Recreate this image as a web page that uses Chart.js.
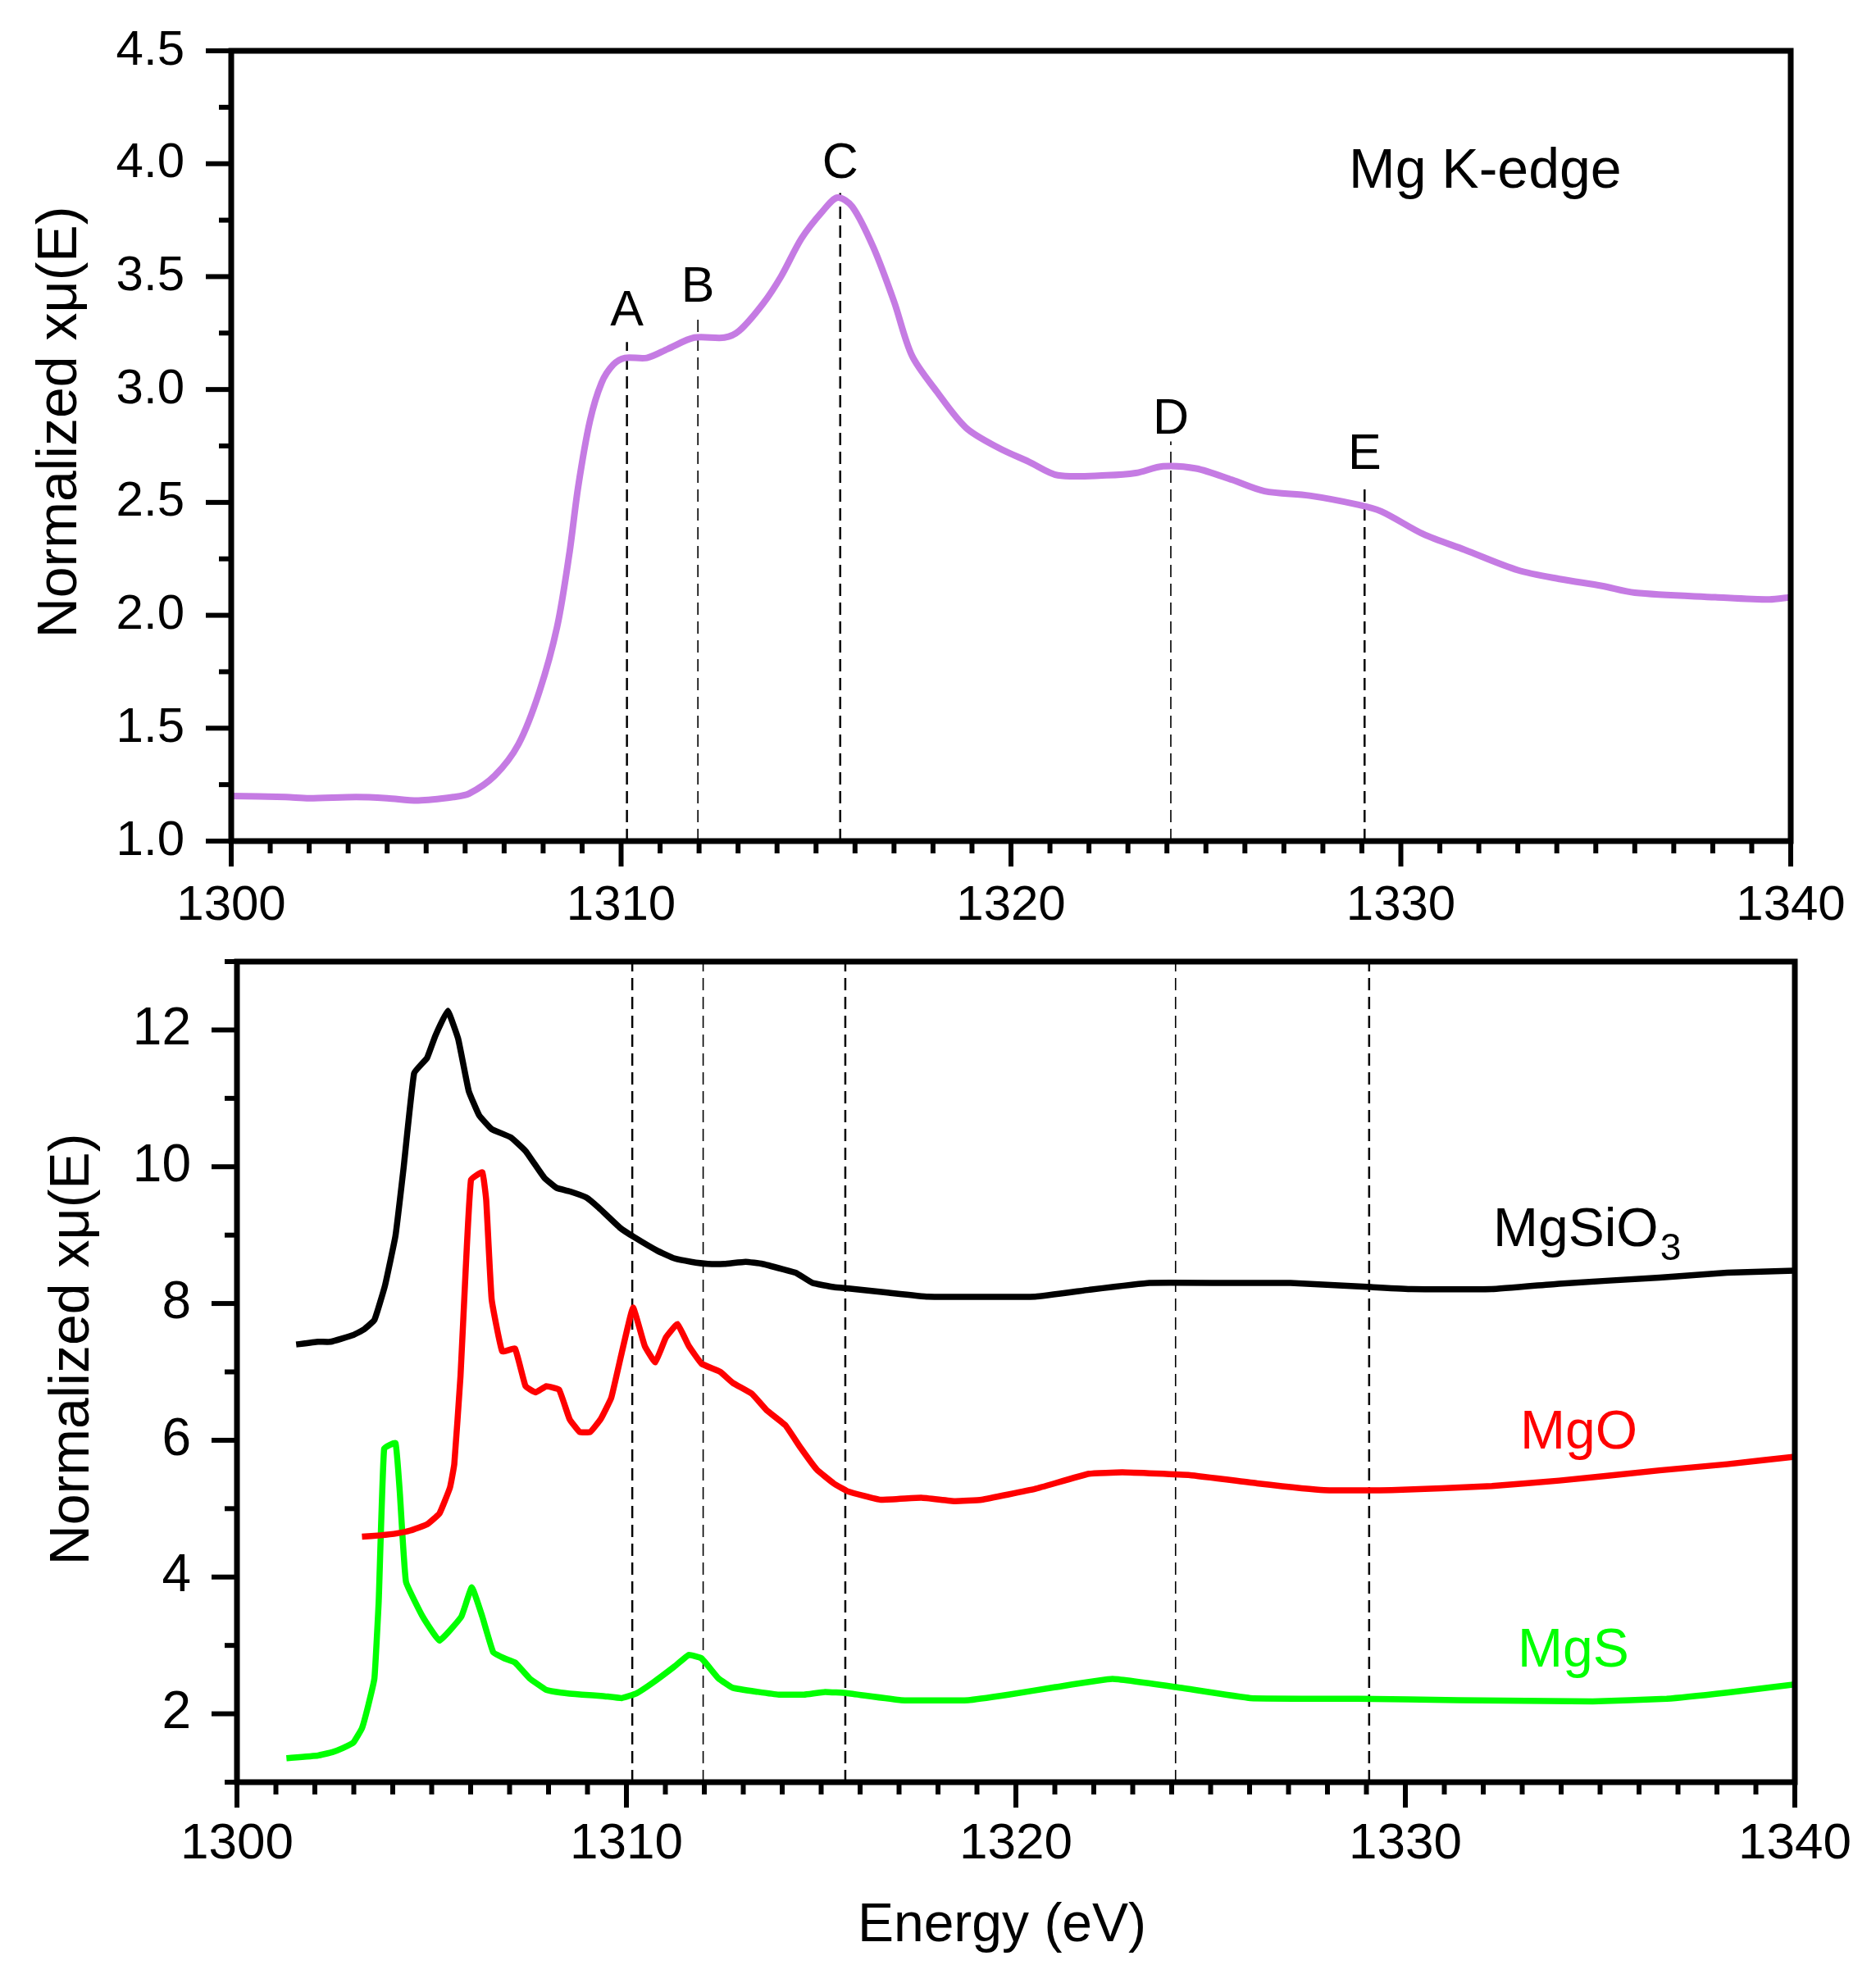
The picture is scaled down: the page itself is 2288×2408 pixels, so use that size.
<!DOCTYPE html>
<html>
<head>
<meta charset="utf-8">
<script src="https://cdn.jsdelivr.net/npm/chart.js@4.4.0/dist/chart.umd.min.js"></script>
<style>
  html, body { margin: 0; padding: 0; background: #fff; }
  #wrap { position: relative; width: 2288px; height: 2408px; }
  canvas { position: absolute; left: 0; }
  #topChart { top: 0; width: 2288px; height: 1160px; }
  #bottomChart { top: 1160px; width: 2288px; height: 1248px; }
</style>
</head>
<body>
<div id="wrap">
  <canvas id="topChart" width="2288" height="1160"></canvas>
  <canvas id="bottomChart" width="2288" height="1248"></canvas>
</div>
<script>
// Datos

// Ticks con etiqueta
const energyTicks = [1300, 1310, 1320, 1330, 1340];
const topMuTicks = [1.0, 1.5, 2.0, 2.5, 3.0, 3.5, 4.0, 4.5];
const bottomMuTicks = [2, 4, 6, 8, 10, 12];

// Panel superior: muestra, Mg K-edge
const sampleEnergy = [1300, 1301.4, 1302.0, 1303.2, 1304.0, 1304.8, 1305.7, 1306.1, 1306.76, 1307.37,
    1307.9, 1308.36, 1308.67, 1308.9, 1309.2, 1309.5, 1309.8, 1310.1, 1310.66, 1311.2,
    1311.88, 1312.65, 1313.03, 1313.64, 1314.1, 1314.63, 1315.17, 1315.55, 1315.93, 1316.47,
    1317.0, 1317.46, 1318.1, 1318.85, 1319.7, 1320.46, 1321.2, 1322.45, 1323.2, 1323.9,
    1324.75, 1325.67, 1326.5, 1327.66, 1328.9, 1329.5, 1330.57, 1331.64, 1333.0, 1334.1,
    1335.16, 1336.0, 1338.07, 1339.45, 1340];
const sampleMu = [1.20, 1.195, 1.19, 1.195, 1.19, 1.18, 1.195, 1.21, 1.29, 1.43,
    1.66, 1.95, 2.27, 2.57, 2.86, 3.03, 3.11, 3.14, 3.14, 3.18,
    3.23, 3.23, 3.26, 3.38, 3.50, 3.67, 3.79, 3.85, 3.81, 3.63,
    3.39, 3.15, 2.99, 2.83, 2.74, 2.68, 2.62, 2.62, 2.63, 2.66,
    2.65, 2.60, 2.55, 2.53, 2.49, 2.46, 2.36, 2.29, 2.20, 2.16,
    2.13, 2.10, 2.08, 2.07, 2.08];

// Picos marcados A-E
const peakNames = ['A', 'B', 'C', 'D', 'E'];
const peakEnergy = [1310.15, 1311.97, 1315.62, 1324.1, 1329.07];
const peakLineTop = [3.21, 3.32, 3.87, 2.77, 2.57];
const peakLabelAt = [3.345, 3.45, 4.0, 2.865, 2.71];

// Panel inferior: referencias
const mgsio3Energy = [1301.52, 1302.08, 1302.4, 1302.99, 1303.26, 1303.53, 1303.8, 1304.07, 1304.28, 1304.55,
    1304.88, 1305.09, 1305.41, 1305.68, 1305.95, 1306.22, 1306.54, 1307.03, 1307.41, 1307.89,
    1308.21, 1308.54, 1308.97, 1309.29, 1309.83, 1310.2, 1310.8, 1311.23, 1311.66, 1312.09,
    1312.52, 1313.06, 1313.49, 1314.03, 1314.35, 1314.78, 1315.32, 1315.7, 1316.7, 1317.74,
    1320.5, 1321.88, 1323.43, 1325.33, 1327.05, 1329.12, 1330.16, 1332.22, 1333.95, 1336.53,
    1338.26, 1340];
const mgsio3Mu = [7.40, 7.44, 7.44, 7.54, 7.62, 7.76, 8.26, 8.99, 9.99, 11.37,
    11.59, 11.91, 12.28, 11.87, 11.11, 10.75, 10.55, 10.43, 10.23, 9.84,
    9.69, 9.64, 9.55, 9.40, 9.11, 8.97, 8.77, 8.66, 8.61, 8.58,
    8.58, 8.61, 8.58, 8.50, 8.45, 8.30, 8.24, 8.22, 8.16, 8.10,
    8.10, 8.20, 8.30, 8.30, 8.30, 8.24, 8.21, 8.21, 8.29, 8.38,
    8.45, 8.48];

const mgoEnergy = [1303.21, 1303.69, 1304.12, 1304.45, 1304.88, 1305.2, 1305.47, 1305.58, 1305.74, 1305.87,
    1306.01, 1306.3, 1306.4, 1306.54, 1306.81, 1307.14, 1307.41, 1307.67, 1307.94, 1308.27,
    1308.54, 1308.8, 1309.07, 1309.34, 1309.61, 1309.88, 1310.17, 1310.47, 1310.74, 1311.01,
    1311.31, 1311.6, 1311.93, 1312.41, 1312.73, 1313.22, 1313.6, 1314.08, 1314.46, 1314.89,
    1315.32, 1315.7, 1316.53, 1317.57, 1318.43, 1319.12, 1320.5, 1321.88, 1322.74, 1324.47,
    1326.19, 1327.91, 1329.64, 1332.22, 1333.95, 1336.53, 1338.26, 1340];
const mgoMu = [4.59, 4.61, 4.64, 4.68, 4.77, 4.93, 5.31, 5.65, 6.94, 8.46,
    9.81, 9.92, 9.51, 8.06, 7.30, 7.34, 6.79, 6.70, 6.79, 6.74,
    6.31, 6.12, 6.12, 6.31, 6.62, 7.28, 7.94, 7.38, 7.14, 7.50,
    7.70, 7.38, 7.12, 7.00, 6.84, 6.68, 6.44, 6.22, 5.90, 5.57,
    5.37, 5.25, 5.13, 5.16, 5.11, 5.13, 5.29, 5.51, 5.53, 5.49,
    5.37, 5.27, 5.27, 5.33, 5.41, 5.56, 5.65, 5.76];

const mgsEnergy = [1301.27, 1302.08, 1302.45, 1302.72, 1302.99, 1303.21, 1303.37, 1303.53, 1303.64, 1303.78,
    1304.07, 1304.18, 1304.34, 1304.77, 1305.2, 1305.76, 1306.03, 1306.3, 1306.58, 1306.87,
    1307.14, 1307.51, 1307.94, 1308.32, 1308.86, 1309.4, 1309.88, 1310.26, 1310.69, 1311.23,
    1311.6, 1311.93, 1312.36, 1312.73, 1313.38, 1313.92, 1314.56, 1315.1, 1315.67, 1317.05,
    1318.78, 1319.81, 1321.02, 1322.48, 1324.12, 1326.02, 1328.78, 1331.36, 1334.81, 1336.71,
    1338.26, 1340];
const mgsMu = [1.35, 1.39, 1.44, 1.50, 1.58, 1.79, 2.12, 2.52, 3.65, 5.88,
    5.96, 5.25, 3.93, 3.42, 3.07, 3.42, 3.85, 3.42, 2.90, 2.81,
    2.75, 2.52, 2.35, 2.31, 2.28, 2.26, 2.23, 2.30, 2.46, 2.69,
    2.86, 2.81, 2.52, 2.38, 2.32, 2.28, 2.28, 2.32, 2.30, 2.20,
    2.20, 2.28, 2.39, 2.51, 2.39, 2.23, 2.22, 2.20, 2.18, 2.22,
    2.31, 2.43];

const FONT = "'Liberation Sans', Arial, sans-serif";

function toPoints(xs, ys) {
    return xs.map((x, i) => ({ x, y: ys[i] }));
}

// Marco, ticks mayores y menores hacia afuera
const frameTicks = {
    id: 'frameTicks',
    afterDraw(chart, args, opts) {
        const { ctx, chartArea: a, scales: { x, y } } = chart;
        ctx.save();
        ctx.strokeStyle = '#000';
        ctx.lineWidth = 6;
        const nx = Math.round((x.max - x.min) / opts.xMinor);
        const everyX = Math.round(opts.xMajor / opts.xMinor);
        for (let i = 0; i <= nx; i++) {
            const px = x.getPixelForValue(x.min + i * opts.xMinor);
            ctx.beginPath();
            ctx.moveTo(px, a.bottom);
            ctx.lineTo(px, a.bottom + (i % everyX === 0 ? 31 : 15));
            ctx.stroke();
        }
        const ny = Math.round((y.max - y.min) / opts.yMinor);
        for (let i = 0; i <= ny; i++) {
            const v = y.min + i * opts.yMinor;
            const py = y.getPixelForValue(v);
            const r = v / opts.yMajor;
            const major = Math.abs(r - Math.round(r)) < 1e-6;
            ctx.beginPath();
            ctx.moveTo(a.left, py);
            ctx.lineTo(a.left - (major ? 31 : 15), py);
            ctx.stroke();
        }
        ctx.lineWidth = 7;
        ctx.strokeRect(a.left, a.top, a.right - a.left, a.bottom - a.top);
        ctx.restore();
    }
};

// Lineas punteadas en las energias de los picos
const peakLines = {
    id: 'peakLines',
    beforeDatasetsDraw(chart, args, opts) {
        const { ctx, chartArea: a, scales: { x, y } } = chart;
        const widths = [2.5, 1.6, 2.5, 1.6, 2.5];
        ctx.save();
        ctx.strokeStyle = '#000';
        ctx.setLineDash([15, 8]);
        peakEnergy.forEach((e, i) => {
            const px = x.getPixelForValue(e);
            const top = opts.withLabels ? y.getPixelForValue(peakLineTop[i]) : a.top;
            ctx.lineWidth = widths[i];
            ctx.beginPath();
            ctx.moveTo(px, a.bottom);
            ctx.lineTo(px, top);
            ctx.stroke();
        });
        ctx.setLineDash([]);
        if (opts.withLabels) {
            ctx.fillStyle = '#000';
            ctx.font = '61px ' + FONT;
            ctx.textAlign = 'center';
            ctx.textBaseline = 'middle';
            peakEnergy.forEach((e, i) => {
                ctx.fillText(peakNames[i], x.getPixelForValue(e), y.getPixelForValue(peakLabelAt[i]));
            });
        }
        ctx.restore();
    }
};

// Titulos de ejes y etiquetas de texto
const textLabels = {
    id: 'textLabels',
    afterDraw(chart, args, opts) {
        const ctx = chart.ctx;
        ctx.save();
        ctx.textBaseline = 'alphabetic';
        // titulo eje Y rotado
        ctx.save();
        ctx.translate(opts.yTitle.x, opts.yTitle.y);
        ctx.rotate(-Math.PI / 2);
        ctx.textAlign = 'center';
        ctx.fillStyle = '#000';
        ctx.font = '68px ' + FONT;
        ctx.fillText('Normalized x\u03bc(E)', 0, 0);
        ctx.restore();
        (opts.items || []).forEach(it => {
            ctx.fillStyle = it.color;
            ctx.font = it.size + 'px ' + FONT;
            ctx.textAlign = it.align || 'left';
            ctx.fillText(it.text, it.x, it.y);
            if (it.sub) {
                const w = ctx.measureText(it.text).width;
                ctx.font = '46px ' + FONT;
                ctx.fillText(it.sub, it.x + w + 2, it.y + 17);
            }
        });
        ctx.restore();
    }
};

function fixedTicks(values) {
    return s => { s.ticks = values.map(v => ({ value: v })); };
}

function baseOptions(cfg) {
    return {
        responsive: false,
        devicePixelRatio: 1,
        animation: false,
        events: [],
        layout: { padding: cfg.padding },
        plugins: {
            legend: { display: false },
            tooltip: { enabled: false },
            frameTicks: cfg.ticks,
            peakLines: { withLabels: cfg.withLabels },
            textLabels: cfg.text
        },
        scales: {
            x: {
                type: 'linear',
                min: 1300,
                max: 1340,
                grid: { display: false, drawTicks: false },
                border: { display: false },
                afterBuildTicks: fixedTicks(energyTicks),
                ticks: {
                    color: '#000',
                    padding: cfg.xPad,
                    font: { family: FONT, size: cfg.xFont },
                    maxRotation: 0,
                    autoSkip: false,
                    callback: v => String(v)
                },
                afterFit: s => {
                    s.height = cfg.xHeight;
                    s.paddingLeft = 0; s.paddingRight = 0;
                }
            },
            y: {
                type: 'linear',
                min: cfg.yMin,
                max: cfg.yMax,
                grid: { display: false, drawTicks: false },
                border: { display: false },
                afterBuildTicks: fixedTicks(cfg.yTicks),
                ticks: {
                    color: '#000',
                    padding: cfg.yPad,
                    font: { family: FONT, size: cfg.yFont },
                    autoSkip: false,
                    callback: cfg.yLabel
                },
                afterFit: s => {
                    s.width = cfg.yWidth;
                    s.paddingTop = 0; s.paddingBottom = 0;
                }
            }
        }
    };
}

// Grafico superior
new Chart(document.getElementById('topChart').getContext('2d'), {
    type: 'line',
    data: {
        datasets: [{
            label: 'Mg K-edge',
            data: toPoints(sampleEnergy, sampleMu),
            borderColor: '#c57be3',
            borderWidth: 8,
            pointRadius: 0,
            tension: 0.3,
            fill: false
        }]
    },
    options: baseOptions({
        padding: { top: 62, right: 104, left: 0, bottom: 0 },
        ticks: { xMajor: 10, xMinor: 1, yMajor: 0.5, yMinor: 0.25 },
        withLabels: true,
        xPad: 43, xFont: 60, xHeight: 134,
        yMin: 1, yMax: 4.5, yTicks: topMuTicks, yPad: 57, yFont: 60, yWidth: 282,
        yLabel: v => v.toFixed(1),
        text: {
            yTitle: { x: 93, y: 515 },
            items: [
                { text: 'Mg K-edge', x: 1645, y: 229, size: 68, color: '#000' }
            ]
        }
    }),
    plugins: [peakLines, frameTicks, textLabels]
});

// Grafico inferior
new Chart(document.getElementById('bottomChart').getContext('2d'), {
    type: 'line',
    data: {
        datasets: [
            { label: 'MgSiO3', data: toPoints(mgsio3Energy, mgsio3Mu), borderColor: '#000000' },
            { label: 'MgO', data: toPoints(mgoEnergy, mgoMu), borderColor: '#ff0000' },
            { label: 'MgS', data: toPoints(mgsEnergy, mgsMu), borderColor: '#00ff00' }
        ].map(d => Object.assign(d, { borderWidth: 7.5, pointRadius: 0, tension: 0.1, fill: false }))
    },
    options: baseOptions({
        padding: { top: 13, right: 99, left: 0, bottom: 0 },
        ticks: { xMajor: 10, xMinor: 1, yMajor: 2, yMinor: 1 },
        withLabels: false,
        xPad: 39, xFont: 62, xHeight: 234,
        yMin: 1, yMax: 13, yTicks: bottomMuTicks, yPad: 56, yFont: 64, yWidth: 289,
        yLabel: v => String(v),
        text: {
            yTitle: { x: 108, y: 486 },
            items: [
                { text: 'MgSiO', sub: '3', x: 1821, y: 360, size: 66, color: '#000' },
                { text: 'MgO', x: 1854, y: 607, size: 66, color: '#ff0000' },
                { text: 'MgS', x: 1851, y: 873, size: 66, color: '#00ff00' },
                { text: 'Energy (eV)', x: 1222, y: 1208, size: 66, color: '#000', align: 'center' }
            ]
        }
    }),
    plugins: [peakLines, frameTicks, textLabels]
});
</script>
</body>
</html>
